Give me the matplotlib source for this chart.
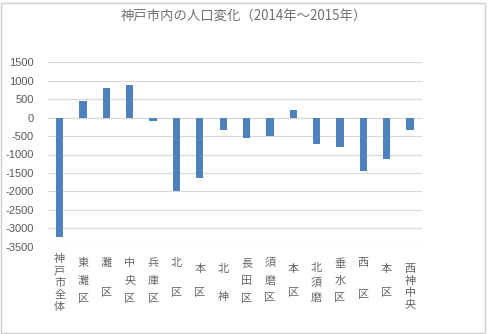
import matplotlib
matplotlib.use("Agg")
import matplotlib.pyplot as plt
from matplotlib.patches import Rectangle

plt.rcParams['font.family'] = ['Noto Sans CJK JP', 'DejaVu Sans']

# 区ごとの人口増減（2014年→2015年）
districts = ["神戸市全体", "東灘区", "灘 区", "中央区", "兵庫区", "北 区", "本 区", "北 神",
             "長田区", "須磨区", "本 区", "北須磨", "垂水区", "西 区", "本 区", "西神中央"]
change = [-3240, 450, 810, 885, -100, -2000, -1640, -340,
          -560, -495, 210, -705, -795, -1445, -1120, -325]
yticks = [1500, 1000, 500, 0, -500, -1000, -1500, -2000, -2500, -3000, -3500]
title = "神戸市内の人口変化（2014年～2015年）"

W, H = 488, 334
fig = plt.figure(figsize=(W / 100, H / 100), dpi=100)
fig.patch.set_facecolor("white")

# chart frame
fig.patches.append(Rectangle((1 / W, 1 / H), (W - 4) / W, (H - 4) / H,
                             transform=fig.transFigure, fill=False,
                             edgecolor="#D0D0D0", linewidth=1.0))

left, right, top, bottom = 48, 421.7, 62.3, 246.7
ax = fig.add_axes([left / W, 1 - bottom / H, (right - left) / W, (bottom - top) / H])

x = list(range(len(change)))
ax.bar(x, change, width=0.31, color="#4F81BD", zorder=3)
ax.set_xlim(-0.5, len(change) - 0.5)
ax.set_ylim(min(yticks), max(yticks))
ax.set_yticks(yticks)
ax.set_yticklabels([str(v) for v in yticks], fontsize=8, color="#595959",
                   family=["Liberation Sans", "DejaVu Sans"])
ax.tick_params(axis="y", length=0, pad=10)
ax.set_xticks([])
ax.grid(axis="y", color="#D9D9D9", linewidth=0.9, zorder=0)
for s in ax.spines.values():
    s.set_visible(False)

# stacked vertical category labels: (top row pixel, row step)
layout = [(259.3, 11.85), (263.3, 18), (263.3, 15), (263.3, 18), (263.3, 18), (263.3, 15),
          (269, 12), (269, 13.8), (263.3, 18), (263.3, 17.5), (269, 12), (268.3, 15),
          (263.3, 17.3), (263.3, 16), (269, 12), (269, 12)]
for i, (name, (y0, step)) in enumerate(zip(districts, layout)):
    xf = (left + (i + 0.5) * (right - left) / len(change)) / W
    row = 0
    for ch in name:
        if ch != " ":
            fig.text(xf, 1 - (y0 + row * step) / H, ch, ha="center", va="center",
                     fontsize=8, color="#666666")
        row += 1

fig.text(0.5, 1 - 16 / H, title, ha="center", va="center", fontsize=9.6, color="#707070")

fig.savefig("out.png", dpi=100)
